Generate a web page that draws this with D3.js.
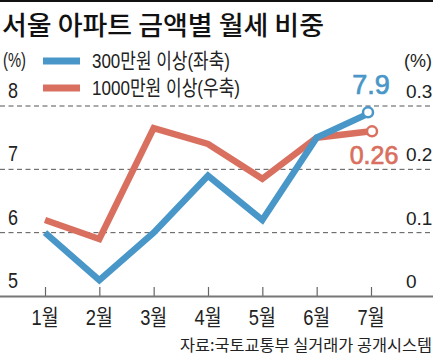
<!DOCTYPE html>
<html><head><meta charset="utf-8">
<script src="https://cdn.jsdelivr.net/npm/d3@7"></script>
<style>
html,body{margin:0;padding:0;background:#fff;}
svg{display:block;}
</style></head>
<body>
<svg id="c" width="433" height="355"></svg>
<script>
const months = ['1월','2월','3월','4월','5월','6월','7월'];
const over300 = [6.0, 5.25, 6.0, 6.9, 6.2, 7.5, 7.9];      // 300만원 이상 (좌축, %)
const over1000 = [0.12, 0.09, 0.265, 0.24, 0.185, 0.25, 0.26]; // 1000만원 이상 (우축, %)
const leftTicks = [5, 6, 7, 8];
const rightTicks = [0, 0.1, 0.2, 0.3];
const rightTickLabels = ['0', '0.1', '0.2', '0.3'];
const title = '서울 아파트 금액별 월세 비중';
const legendLabels = ['300만원 이상(좌축)', '1000만원 이상(우축)'];
const source = '자료:국토교통부 실거래가 공개시스템';

const BLUE = '#4897c8', RED = '#d9705f', INK = '#222';
const NUM = '"Liberation Sans",Arial,sans-serif';
const KR = '"Liberation Sans","Noto Sans CJK KR",sans-serif';

const svg = d3.select('#c');
const x = d3.scalePoint().domain(months).range([45, 371]);
const yL = d3.scaleLinear().domain([5, 8]).range([296, 106]);
const yR = d3.scaleLinear().domain([0, 0.3]).range([296, 106]);

// top rule
svg.append('rect').attr('x',0).attr('y',0).attr('width',433).attr('height',2).attr('fill','#111');

// title
svg.append('text').attr('x',2).attr('y',35).text(title)
  .attr('font-family','"Noto Sans CJK KR",sans-serif').attr('font-size',26).attr('font-weight',500)
  .attr('fill','#111').attr('textLength',322).attr('lengthAdjust','spacingAndGlyphs');

// units
svg.append('text').attr('x',3).attr('y',67).text('(%)').attr('font-family',NUM).attr('font-size',21)
  .attr('fill',INK).attr('textLength',23).attr('lengthAdjust','spacingAndGlyphs');
svg.append('text').attr('x',404).attr('y',67).text('(%)').attr('font-family',NUM).attr('font-size',18)
  .attr('fill',INK);

// gridlines (dashed) for upper ticks
svg.append('g').selectAll('line').data(leftTicks.filter(d=>d>5)).join('line')
  .attr('x1',0).attr('x2',433).attr('y1',d=>yL(d)).attr('y2',d=>yL(d))
  .attr('stroke','#555').attr('stroke-width',1).attr('stroke-dasharray','5,3.5');

// left axis labels
svg.append('g').selectAll('text').data(leftTicks).join('text')
  .attr('x',13).attr('y',d=>yL(d)-8).attr('text-anchor','middle').text(d=>d)
  .attr('font-family',NUM).attr('font-size',22).attr('fill',INK)
  .attr('textLength',10).attr('lengthAdjust','spacingAndGlyphs');

// right axis labels
svg.append('g').selectAll('text').data(rightTicks).join('text')
  .attr('x',406).attr('y',d=>yR(d)-8).text((d,i)=>rightTickLabels[i])
  .attr('font-family',NUM).attr('font-size',19).attr('fill',INK);

// x axis baseline + ticks via d3.axisBottom
const xAxis = svg.append('g').attr('transform','translate(0,296)')
  .call(d3.axisBottom(x).tickSize(-9).tickSizeOuter(0).tickFormat(''));
xAxis.select('.domain').remove();
xAxis.selectAll('.tick line').attr('stroke','#666').attr('stroke-width',1.2);
svg.append('line').attr('x1',0).attr('x2',433).attr('y1',296.5).attr('y2',296.5)
  .attr('stroke','#777').attr('stroke-width',2);

// month labels
svg.append('g').selectAll('text').data(months).join('text')
  .attr('x',d=>x(d)).attr('y',325).attr('text-anchor','middle').text(d=>d)
  .attr('font-family',KR).attr('font-size',22).attr('fill',INK)
  .attr('textLength',27).attr('lengthAdjust','spacingAndGlyphs');

// lines
const lineL = d3.line().x((d,i)=>x(months[i])).y(d=>yL(d));
const lineR = d3.line().x((d,i)=>x(months[i])).y(d=>yR(d));
svg.append('path').datum(over1000).attr('d',lineR).attr('fill','none')
  .attr('stroke',RED).attr('stroke-width',6.5).attr('stroke-linejoin','miter');
svg.append('path').datum(over300).attr('d',lineL).attr('fill','none')
  .attr('stroke',BLUE).attr('stroke-width',6.5).attr('stroke-linejoin','miter');

// end markers
const last = months.length - 1;
svg.append('circle').attr('cx',x(months[last])+1).attr('cy',yR(over1000[last]))
  .attr('r',5).attr('fill','#fff').attr('stroke',RED).attr('stroke-width',2.5);
svg.append('circle').attr('cx',x(months[last])-3).attr('cy',yL(over300[last]))
  .attr('r',5).attr('fill','#fff').attr('stroke',BLUE).attr('stroke-width',2.5);

// end annotations
svg.append('text').attr('x',x(months[last])).attr('y',94).attr('text-anchor','middle')
  .text(over300[last]).attr('font-family',NUM).attr('font-size',27).attr('fill',BLUE)
  .attr('stroke',BLUE).attr('stroke-width',0.7);
svg.append('text').attr('x',x(months[last])+3).attr('y',164).attr('text-anchor','middle')
  .text(over1000[last]).attr('font-family',NUM).attr('font-size',25).attr('fill',RED)
  .attr('stroke',RED).attr('stroke-width',0.7);

// legend
const leg = [{c:BLUE,y:61,t:legendLabels[0],w:138},{c:RED,y:88,t:legendLabels[1],w:148}];
leg.forEach(l=>{
  svg.append('line').attr('x1',43).attr('x2',80).attr('y1',l.y).attr('y2',l.y)
    .attr('stroke',l.c).attr('stroke-width',7);
  svg.append('text').attr('x',92).attr('y',l.y+7).text(l.t)
    .attr('font-family',KR).attr('font-size',21).attr('fill',INK)
    .attr('textLength',l.w).attr('lengthAdjust','spacingAndGlyphs');
});

// source
svg.append('text').attr('x',432).attr('y',351).attr('text-anchor','end').text(source)
  .attr('font-family','"Noto Sans CJK KR",sans-serif').attr('font-size',16).attr('fill',INK)
  .attr('textLength',252).attr('lengthAdjust','spacingAndGlyphs');
</script>
</body></html>
